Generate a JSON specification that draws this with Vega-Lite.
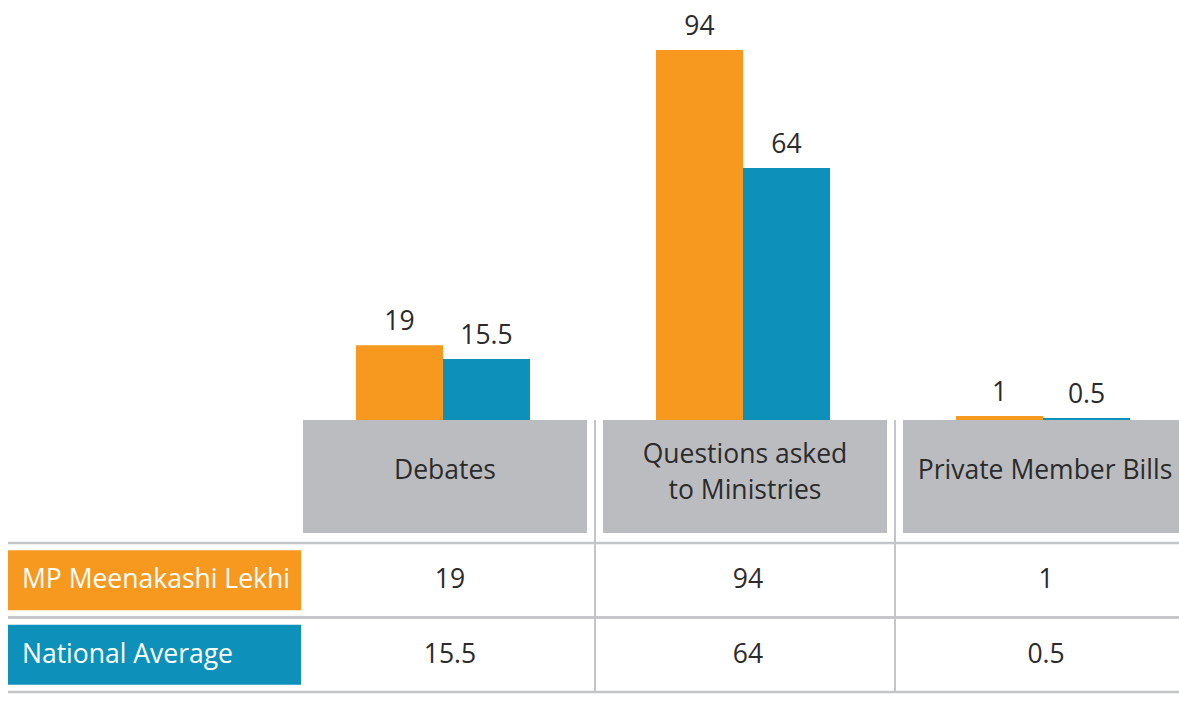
{
  "$schema": "https://vega.github.io/schema/vega-lite/v6.json",
  "width": 1179,
  "height": 702,
  "autosize": {"type": "none"},
  "padding": 0,
  "background": "white",
  "config": {"view": {"stroke": null}, "font": "Open Sans", "text": {"font": "Open Sans"}},
  "datasets": {
    "values": [
      {"category": "Debates", "series": "MP Meenakashi Lekhi", "value": 19},
      {"category": "Debates", "series": "National Average", "value": 15.5},
      {"category": "Questions asked to Ministries", "series": "MP Meenakashi Lekhi", "value": 94},
      {"category": "Questions asked to Ministries", "series": "National Average", "value": 64},
      {"category": "Private Member Bills", "series": "MP Meenakashi Lekhi", "value": 1},
      {"category": "Private Member Bills", "series": "National Average", "value": 0.5}
    ],
    "categories": [
      {"category": "Debates", "lines": ["Debates"]},
      {"category": "Questions asked to Ministries", "lines": ["Questions asked", "to Ministries"]},
      {"category": "Private Member Bills", "lines": ["Private Member Bills"]}
    ],
    "series": [
      {"series": "MP Meenakashi Lekhi"},
      {"series": "National Average"}
    ]
  },
  "resolve": {"scale": {"x": "independent", "y": "independent", "color": "independent", "xOffset": "independent"}},
  "layer": [
    {
      "data": {"name": "categories"},
      "mark": {"type": "rect", "fill": "#BBBCC0"},
      "encoding": {
        "x": {"field": "category", "type": "nominal", "axis": null,
          "scale": {"domain": ["(row labels)", "Debates", "Questions asked to Ministries", "Private Member Bills"], "range": [-5, 1195], "paddingInner": 0.0533, "paddingOuter": 0.02667}},
        "y": {"datum": 0, "type": "quantitative", "axis": null, "scale": {"domain": [0, 1], "range": [420, 533], "nice": false, "zero": false}},
        "y2": {"datum": 1}
      }
    },
    {
      "data": {"name": "categories"},
      "transform": [{"filter": "length(datum.lines) == 1"}],
      "mark": {"type": "text", "fontSize": 26.5, "color": "#2b2b2b", "baseline": "middle", "align": "center", "lineHeight": 36, "dy": -6},
      "encoding": {
        "x": {"field": "category", "type": "nominal", "axis": null,
          "scale": {"domain": ["(row labels)", "Debates", "Questions asked to Ministries", "Private Member Bills"], "range": [-5, 1195], "paddingInner": 0, "paddingOuter": 0}},
        "y": {"datum": 0.5, "type": "quantitative", "axis": null, "scale": {"domain": [0, 1], "range": [420, 533], "nice": false, "zero": false}},
        "text": {"field": "lines"}
      }
    },
    {
      "data": {"name": "categories"},
      "transform": [{"filter": "length(datum.lines) > 1"}],
      "mark": {"type": "text", "fontSize": 26.5, "color": "#2b2b2b", "baseline": "middle", "align": "center", "lineHeight": 36, "dy": -22},
      "encoding": {
        "x": {"field": "category", "type": "nominal", "axis": null,
          "scale": {"domain": ["(row labels)", "Debates", "Questions asked to Ministries", "Private Member Bills"], "range": [-5, 1195], "paddingInner": 0, "paddingOuter": 0}},
        "y": {"datum": 0.5, "type": "quantitative", "axis": null, "scale": {"domain": [0, 1], "range": [420, 533], "nice": false, "zero": false}},
        "text": {"field": "lines"}
      }
    },
    {
      "data": {"name": "values"},
      "mark": {"type": "bar"},
      "encoding": {
        "x": {"field": "category", "type": "nominal", "axis": null,
          "scale": {"domain": ["(row labels)", "Debates", "Questions asked to Ministries", "Private Member Bills"], "range": [-5, 1195], "paddingInner": 0, "paddingOuter": 0}},
        "xOffset": {"field": "series", "type": "nominal",
          "scale": {"domain": ["MP Meenakashi Lekhi", "National Average"], "range": [61, 235], "paddingInner": 0, "paddingOuter": 0}},
        "y": {"field": "value", "type": "quantitative", "axis": null, "scale": {"domain": [0, 94], "range": [420, 50], "nice": false, "zero": true}},
        "color": {"field": "series", "type": "nominal", "legend": null,
          "scale": {"domain": ["MP Meenakashi Lekhi", "National Average"], "range": ["#F7991F", "#0D91BA"]}}
      }
    },
    {
      "data": {"name": "values"},
      "mark": {"type": "text", "fontSize": 26.5, "color": "#2b2b2b", "baseline": "alphabetic", "align": "center", "dy": -15},
      "encoding": {
        "x": {"field": "category", "type": "nominal", "axis": null, "bandPosition": 0,
          "scale": {"domain": ["(row labels)", "Debates", "Questions asked to Ministries", "Private Member Bills"], "range": [-5, 1195], "paddingInner": 0, "paddingOuter": 0}},
        "xOffset": {"field": "series", "type": "nominal",
          "scale": {"type": "point", "domain": ["MP Meenakashi Lekhi", "National Average"], "range": [104.5, 191.5], "padding": 0}},
        "y": {"field": "value", "type": "quantitative", "axis": null, "scale": {"domain": [0, 94], "range": [420, 50], "nice": false, "zero": true}},
        "text": {"field": "value", "type": "quantitative"}
      }
    },
    {
      "data": {"name": "categories"},
      "transform": [{"filter": "datum.category !== 'Debates'"}],
      "mark": {"type": "rule", "color": "#C4C5C8", "strokeWidth": 2},
      "encoding": {
        "x": {"field": "category", "type": "nominal", "axis": null, "bandPosition": 0,
          "scale": {"domain": ["(row labels)", "Debates", "Questions asked to Ministries", "Private Member Bills"], "range": [-5, 1195], "paddingInner": 0, "paddingOuter": 0}},
        "y": {"datum": 0, "type": "quantitative", "axis": null, "scale": {"domain": [0, 1], "range": [420, 692], "nice": false, "zero": false}},
        "y2": {"datum": 1}
      }
    },
    {
      "data": {"name": "series"},
      "mark": {"type": "rule", "color": "#C4C5C8", "strokeWidth": 2.5},
      "encoding": {
        "x": {"datum": 0, "type": "quantitative", "axis": null, "scale": {"domain": [0, 1], "range": [8, 1179], "nice": false, "zero": false}},
        "x2": {"datum": 1},
        "y": {"field": "series", "type": "nominal", "axis": null, "bandPosition": 0,
          "scale": {"domain": ["MP Meenakashi Lekhi", "National Average"], "range": [543, 692], "paddingInner": 0, "paddingOuter": 0}}
      }
    },
    {
      "data": {"name": "series"},
      "mark": {"type": "rule", "color": "#C4C5C8", "strokeWidth": 2.5},
      "encoding": {
        "x": {"datum": 0, "type": "quantitative", "axis": null, "scale": {"domain": [0, 1], "range": [8, 1179], "nice": false, "zero": false}},
        "x2": {"datum": 1},
        "y": {"field": "series", "type": "nominal", "axis": null, "bandPosition": 1,
          "scale": {"domain": ["MP Meenakashi Lekhi", "National Average"], "range": [543, 692], "paddingInner": 0, "paddingOuter": 0}}
      }
    },
    {
      "data": {"name": "series"},
      "mark": {"type": "rect"},
      "encoding": {
        "x": {"datum": "(row labels)", "type": "nominal", "axis": null,
          "scale": {"domain": ["(row labels)"], "range": [8, 301], "paddingInner": 0, "paddingOuter": 0}},
        "y": {"field": "series", "type": "nominal", "axis": null,
          "scale": {"domain": ["MP Meenakashi Lekhi", "National Average"], "range": [543, 692], "paddingInner": 0.195, "paddingOuter": 0.0975}},
        "color": {"field": "series", "type": "nominal", "legend": null,
          "scale": {"domain": ["MP Meenakashi Lekhi", "National Average"], "range": ["#F7991F", "#0D91BA"]}}
      }
    },
    {
      "data": {"name": "series"},
      "mark": {"type": "text", "fontSize": 26.5, "color": "white", "baseline": "middle", "align": "left", "dx": -132.5},
      "encoding": {
        "x": {"datum": "(row labels)", "type": "nominal", "axis": null,
          "scale": {"domain": ["(row labels)"], "range": [8, 301], "paddingInner": 0, "paddingOuter": 0}},
        "y": {"field": "series", "type": "nominal", "axis": null,
          "scale": {"domain": ["MP Meenakashi Lekhi", "National Average"], "range": [543, 692], "paddingInner": 0, "paddingOuter": 0}},
        "text": {"field": "series"}
      }
    },
    {
      "data": {"name": "values"},
      "mark": {"type": "text", "fontSize": 26.5, "color": "#2b2b2b", "baseline": "middle", "align": "center"},
      "encoding": {
        "x": {"field": "category", "type": "nominal", "axis": null,
          "scale": {"domain": ["Debates", "Questions asked to Ministries", "Private Member Bills"], "range": [301, 1195], "paddingInner": 0, "paddingOuter": 0}},
        "y": {"field": "series", "type": "nominal", "axis": null,
          "scale": {"domain": ["MP Meenakashi Lekhi", "National Average"], "range": [543, 692], "paddingInner": 0, "paddingOuter": 0}},
        "text": {"field": "value", "type": "quantitative"}
      }
    }
  ]
}
